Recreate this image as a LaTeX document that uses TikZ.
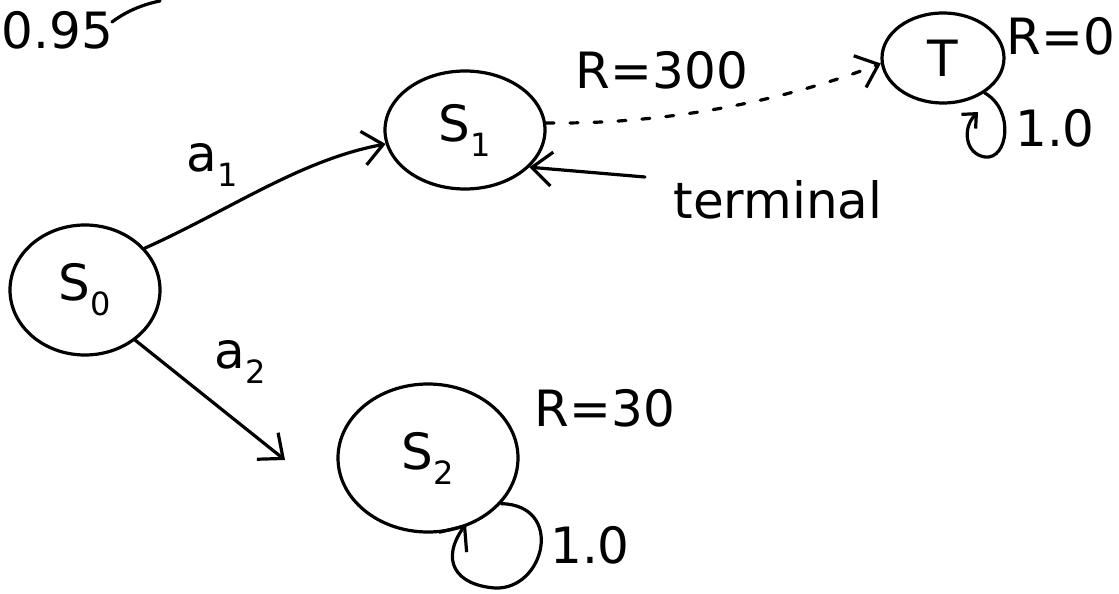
\documentclass[tikz,border=0pt]{standalone}
\usepackage{fontspec}
\setmainfont{DejaVu Sans}
\usetikzlibrary{arrows.meta,shapes.geometric}
\newcommand\lowsub[1]{\raisebox{-0.3em}{\fontsize{32}{32}\selectfont #1}}
\begin{document}
\begin{tikzpicture}[x=1pt,y=-1pt,line width=3.2pt,line cap=round,
  state/.style={draw,ellipse,inner sep=0pt},
  lbl/.style={font=\fontsize{50}{50}\selectfont,inner sep=0pt},
  arr/.style={-{Straight Barb[length=20pt,width=34pt,line width=3.2pt]}},
  smallarr/.style={-{Straight Barb[length=11pt,width=20pt,line width=3.2pt]}}]
\useasboundingbox (0,0) rectangle (1119,594);
\node[lbl,anchor=west] (gamma) at (0,30) {0.95};
\draw (112,22) .. controls (128,10) and (145,4) .. (160,1);
\node[state,minimum width=150pt,minimum height=130pt] (s0) at (85,290) {};
\node[lbl] at (s0) {S\lowsub{0}};
\node[state,minimum width=160pt,minimum height=118pt] (s1) at (465,130) {};
\node[lbl] at (s1) {S\lowsub{1}};
\node[state,minimum width=122pt,minimum height=90pt] (t) at (943,58) {};
\node[lbl] at (t) {T};
\node[state,minimum width=180pt,minimum height=148pt] (s2) at (428,458) {};
\node[lbl] at (s2) {S\lowsub{2}};
\node[lbl] (r1) at (662,70) {R=300};
\node[lbl,anchor=east] (r0) at (1117,36) {R=0};
\node[lbl] (p0) at (1055,128) {1.0};
\node[lbl] (r2) at (605,408) {R=30};
\node[lbl] (p2) at (590,545) {1.0};
\node[lbl] (a1) at (212,165) {a\lowsub{1}};
\node[lbl] (a2) at (240,362) {a\lowsub{2}};
\node[lbl] (term) at (778,200) {terminal};
\coordinate (tw) at (645,177);
\draw[arr] (s0.35) .. controls (230,210) and (300,160) .. (s1.190);
\draw[arr] (s0.-45) -- (285,460);
\draw[arr,dash pattern=on 8pt off 16pt] (s1.5) .. controls (680,125) and (800,95) .. (t.185);
\draw[arr] (tw) -- (s1.-30);
\draw[smallarr] (t.-40) .. controls (1015,110) and (1008,160) .. (985,157) .. controls (965,154) and (962,128) .. (978,112);
\draw[arr] (s2.-32) .. controls (565,505) and (545,590) .. (495,588) .. controls (455,585) and (440,560) .. (466,524);
\end{tikzpicture}
\end{document}
